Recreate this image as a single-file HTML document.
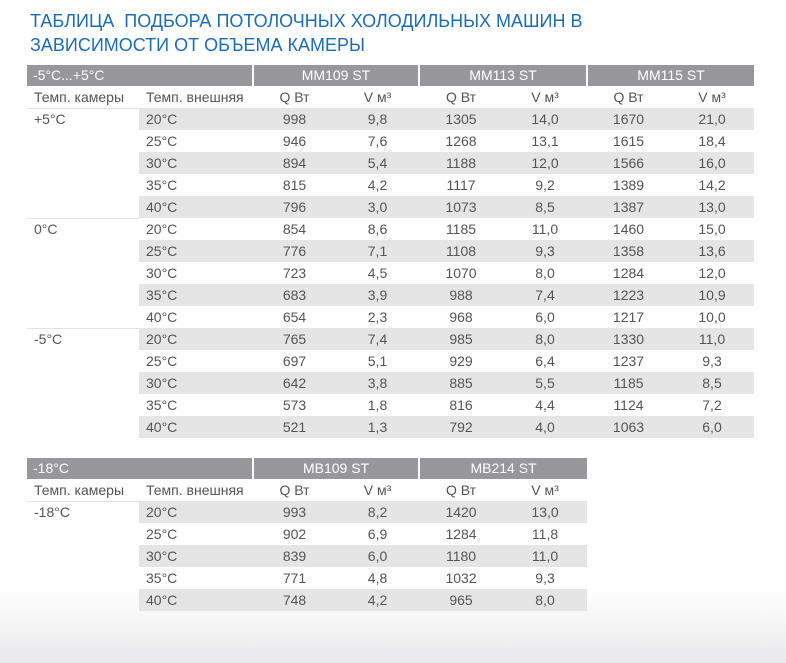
<!DOCTYPE html>
<html><head><meta charset="utf-8"><style>
html,body{margin:0;padding:0}
body{width:786px;height:663px;position:relative;overflow:hidden;background:#fff;
font-family:"Liberation Sans Narrow","Liberation Sans","DejaVu Sans",sans-serif;color:#555}
.bg{position:absolute;left:0;top:590px;width:786px;height:73px;background:linear-gradient(#fff,#e9e9eb)}
h1{position:absolute;left:30px;top:9px;margin:0;font-family:"Liberation Sans",sans-serif;font-weight:normal;font-size:18px;line-height:24px;color:#1a6db6;letter-spacing:0}
table{position:absolute;left:27px;border-collapse:collapse;table-layout:fixed;font-size:14px}
td{height:22px;padding:0;line-height:22px;white-space:nowrap}
.h td{background:#98989b;color:#fff;height:21px;line-height:21px}
.h td.m{text-align:center;border-left:2px solid #fff}
.s td{color:#555}
td.c{text-align:center}
td.l{padding-left:7px}
td.e{padding-left:7px}
tr.g td.x{background:#e5e5e6}
tr.t td.f{box-shadow:inset 0 1px 0 #e2e2e2}
</style></head><body>
<div class="bg"></div>
<h1>ТАБЛИЦА&nbsp; ПОДБОРА ПОТОЛОЧНЫХ ХОЛОДИЛЬНЫХ МАШИН В<br>ЗАВИСИМОСТИ ОТ ОБЪЕМА КАМЕРЫ</h1>

<table style="top:65px;width:727px">
<colgroup><col style="width:112px"><col style="width:114px"><col style="width:83px"><col style="width:83px"><col style="width:84px"><col style="width:84px"><col style="width:83px"><col style="width:84px"></colgroup>
<tr class="h"><td colspan="2" style="padding-left:6px">-5°C...+5°C</td><td colspan="2" class="m">MM109 ST</td><td colspan="2" class="m">MM113 ST</td><td colspan="2" class="m">MM115 ST</td></tr>
<tr class="s"><td class="l">Темп. камеры</td><td class="e">Темп. внешняя</td><td class="c">Q Вт</td><td class="c">V м³</td><td class="c">Q Вт</td><td class="c">V м³</td><td class="c">Q Вт</td><td class="c">V м³</td></tr>
<tr class="g t"><td class="l f">+5°C</td><td class="e x">20°C</td><td class="c x">998</td><td class="c x">9,8</td><td class="c x">1305</td><td class="c x">14,0</td><td class="c x">1670</td><td class="c x">21,0</td></tr>
<tr><td></td><td class="e">25°C</td><td class="c">946</td><td class="c">7,6</td><td class="c">1268</td><td class="c">13,1</td><td class="c">1615</td><td class="c">18,4</td></tr>
<tr class="g"><td></td><td class="e x">30°C</td><td class="c x">894</td><td class="c x">5,4</td><td class="c x">1188</td><td class="c x">12,0</td><td class="c x">1566</td><td class="c x">16,0</td></tr>
<tr><td></td><td class="e">35°C</td><td class="c">815</td><td class="c">4,2</td><td class="c">1117</td><td class="c">9,2</td><td class="c">1389</td><td class="c">14,2</td></tr>
<tr class="g"><td></td><td class="e x">40°C</td><td class="c x">796</td><td class="c x">3,0</td><td class="c x">1073</td><td class="c x">8,5</td><td class="c x">1387</td><td class="c x">13,0</td></tr>
<tr class="t"><td class="l f">0°C</td><td class="e">20°C</td><td class="c">854</td><td class="c">8,6</td><td class="c">1185</td><td class="c">11,0</td><td class="c">1460</td><td class="c">15,0</td></tr>
<tr class="g"><td></td><td class="e x">25°C</td><td class="c x">776</td><td class="c x">7,1</td><td class="c x">1108</td><td class="c x">9,3</td><td class="c x">1358</td><td class="c x">13,6</td></tr>
<tr><td></td><td class="e">30°C</td><td class="c">723</td><td class="c">4,5</td><td class="c">1070</td><td class="c">8,0</td><td class="c">1284</td><td class="c">12,0</td></tr>
<tr class="g"><td></td><td class="e x">35°C</td><td class="c x">683</td><td class="c x">3,9</td><td class="c x">988</td><td class="c x">7,4</td><td class="c x">1223</td><td class="c x">10,9</td></tr>
<tr><td></td><td class="e">40°C</td><td class="c">654</td><td class="c">2,3</td><td class="c">968</td><td class="c">6,0</td><td class="c">1217</td><td class="c">10,0</td></tr>
<tr class="g t"><td class="l f">-5°C</td><td class="e x">20°C</td><td class="c x">765</td><td class="c x">7,4</td><td class="c x">985</td><td class="c x">8,0</td><td class="c x">1330</td><td class="c x">11,0</td></tr>
<tr><td></td><td class="e">25°C</td><td class="c">697</td><td class="c">5,1</td><td class="c">929</td><td class="c">6,4</td><td class="c">1237</td><td class="c">9,3</td></tr>
<tr class="g"><td></td><td class="e x">30°C</td><td class="c x">642</td><td class="c x">3,8</td><td class="c x">885</td><td class="c x">5,5</td><td class="c x">1185</td><td class="c x">8,5</td></tr>
<tr><td></td><td class="e">35°C</td><td class="c">573</td><td class="c">1,8</td><td class="c">816</td><td class="c">4,4</td><td class="c">1124</td><td class="c">7,2</td></tr>
<tr class="g"><td></td><td class="e x">40°C</td><td class="c x">521</td><td class="c x">1,3</td><td class="c x">792</td><td class="c x">4,0</td><td class="c x">1063</td><td class="c x">6,0</td></tr>
</table>

<table style="top:458px;width:560px">
<colgroup><col style="width:112px"><col style="width:114px"><col style="width:83px"><col style="width:83px"><col style="width:84px"><col style="width:84px"></colgroup>
<tr class="h"><td colspan="2" style="padding-left:6px">-18°C</td><td colspan="2" class="m">MB109 ST</td><td colspan="2" class="m">MB214 ST</td></tr>
<tr class="s"><td class="l">Темп. камеры</td><td class="e">Темп. внешняя</td><td class="c">Q Вт</td><td class="c">V м³</td><td class="c">Q Вт</td><td class="c">V м³</td></tr>
<tr class="g t"><td class="l f">-18°C</td><td class="e x">20°C</td><td class="c x">993</td><td class="c x">8,2</td><td class="c x">1420</td><td class="c x">13,0</td></tr>
<tr><td></td><td class="e">25°C</td><td class="c">902</td><td class="c">6,9</td><td class="c">1284</td><td class="c">11,8</td></tr>
<tr class="g"><td></td><td class="e x">30°C</td><td class="c x">839</td><td class="c x">6,0</td><td class="c x">1180</td><td class="c x">11,0</td></tr>
<tr><td></td><td class="e">35°C</td><td class="c">771</td><td class="c">4,8</td><td class="c">1032</td><td class="c">9,3</td></tr>
<tr class="g"><td></td><td class="e x">40°C</td><td class="c x">748</td><td class="c x">4,2</td><td class="c x">965</td><td class="c x">8,0</td></tr>
</table>
</body></html>
